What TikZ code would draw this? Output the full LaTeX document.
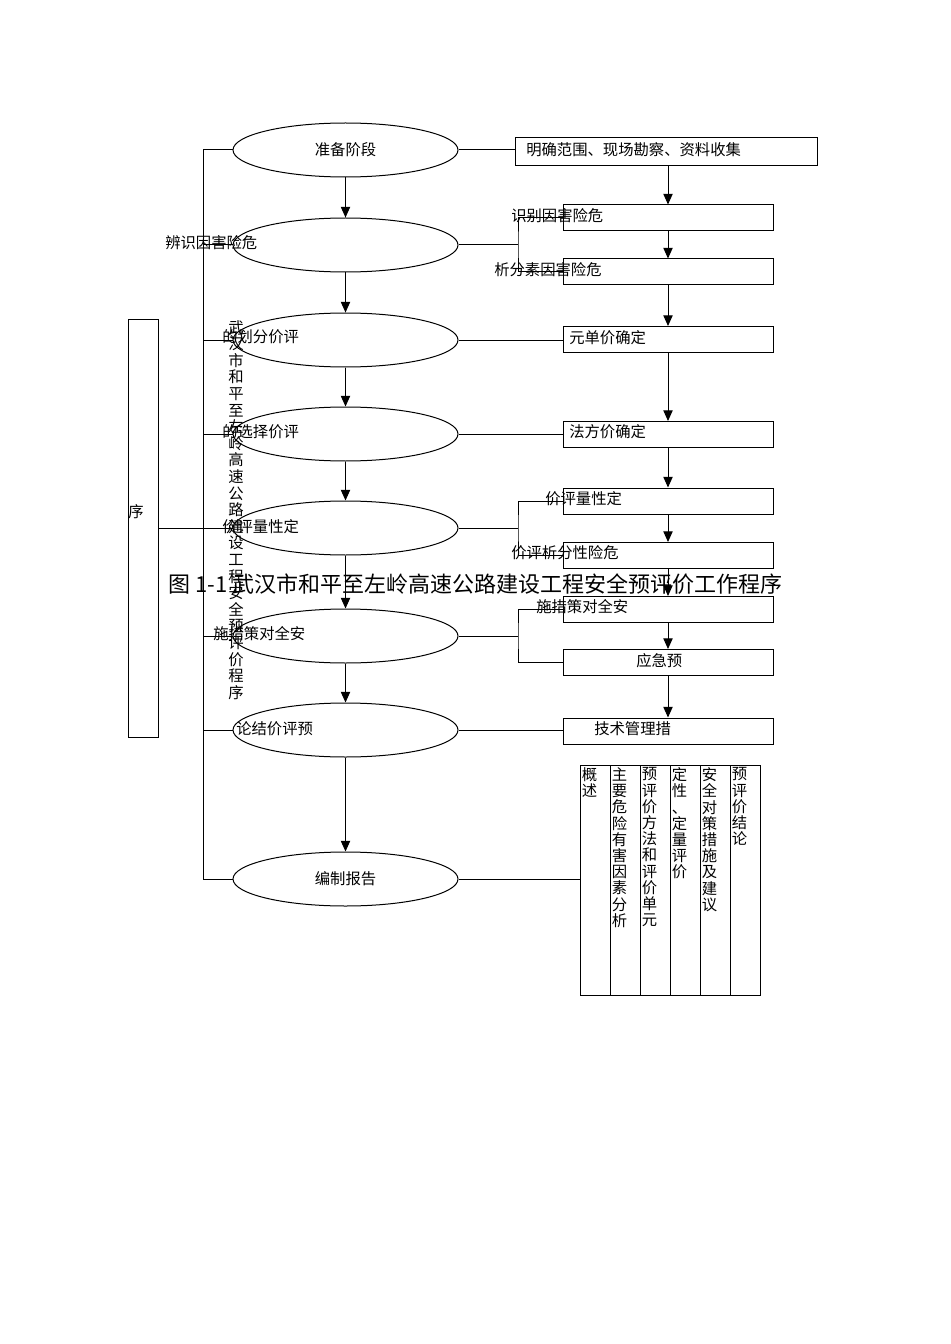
\documentclass[tikz,border=0pt]{standalone}
\usepackage{fontspec}
\newfontfamily\cjk{Noto Sans CJK SC}
\usetikzlibrary{arrows.meta, positioning, shapes.geometric}
\tikzset{
  stage/.style  = {ellipse, draw, line width=0.75pt, minimum width=168.75pt,
                   minimum height=40.5pt, inner sep=0pt, font=\cjk\fontsize{11.5}{12.6}\selectfont},
  item/.style   = {draw, line width=0.75pt, minimum width=157.5pt,
                   minimum height=19.5pt, inner sep=0pt},
  column/.style = {draw, line width=0.75pt, minimum width=22.5pt,
                   minimum height=172.5pt, inner sep=0pt},
  txt/.style    = {inner sep=0pt, anchor=west, font=\cjk\fontsize{11.5}{12.6}\selectfont},
  stack/.style  = {inner sep=0pt, anchor=north west, align=left,
                   font=\cjk\fontsize{11.5}{12.15}\selectfont},
  arrow/.style  = {-{Triangle[width=7pt,length=8pt]}, line width=0.75pt},
  link/.style   = {line width=0.75pt},
}

\begin{document}
\begin{tikzpicture}[x=0.75pt, y=-0.75pt]
  \useasboundingbox (0,0) rectangle (950,1344);

  % stages
  \node[stage] (s1) at (345.5,150) {准备阶段};
  \node[stage] (s2) at (345.5,245) {};
  \node[stage] (s3) at (345.5,340) {};
  \node[stage] (s4) at (345.5,434) {};
  \node[stage] (s5) at (345.5,528) {};
  \node[stage] (s6) at (345.5,636) {};
  \node[stage] (s7) at (345.5,730) {};
  \node[stage] (s8) at (345.5,879) {编制报告};
  \foreach \i/\j in {1/2,2/3,3/4,4/5,5/6,6/7,7/8}
    \draw[arrow] (s\i) -- (s\j);

  % stage labels
  \node[txt] (l2) at (165,243) {辨识因害险危};
  \node[txt] (l3) at (222,337) {的划分价评};
  \node[txt] (l4) at (222,432) {的选择价评};
  \node[txt] (l5) at (222,527) {价评量性定};
  \node[txt] (l6) at (213,634) {施措策对全安};
  \node[txt] (l7) at (236,729) {论结价评预};

  % spine on the left
  \coordinate (spine) at (203,0);
  \draw[link] (s1.west -| spine) -- (s8.west -| spine);
  \foreach \i in {1,...,8}
    \draw[link] (s\i.west -| spine) -- (s\i.west);

  \node[draw, line width=0.75pt, minimum width=22.5pt, minimum height=313.5pt,
        inner sep=0pt] (seq) at (143,528) {};
  \node[txt] (seqt) at (128,512) {序};
  \draw[link] (seq) -- (s5);

  \node[stack, anchor=north, align=center, font=\cjk\fontsize{11.5}{12.45}\selectfont]
    (route) at (236,320) {武\\汉\\市\\和\\平\\至\\左\\岭\\高\\速\\公\\路\\建\\设\\工\\程\\安\\全\\预\\评\\价\\程\\序};

  % boxes on the right
  \node[item, minimum width=226.5pt, minimum height=21pt] (b1) at (666,151.5) {};
  \node[item] (b2)  at (668,218) {};
  \node[item] (b3)  at (668,272) {};
  \node[item] (b4)  at (668,339.5) {};
  \node[item] (b5)  at (668,434.5) {};
  \node[item] (b6)  at (668,501) {};
  \node[item] (b7)  at (668,555.5) {};
  \node[item] (b8)  at (668,609.5) {};
  \node[item] (b9)  at (668,662.5) {};
  \node[item] (b10) at (668,731) {};
  \draw[arrow] (b1.south -| b2) -- (b2);
  \foreach \i/\j in {2/3,3/4,4/5,5/6,6/7,7/8,8/9,9/10}
    \draw[arrow] (b\i) -- (b\j);

  \node[txt] (t1)  at (526,150) {明确范围、现场勘察、资料收集};
  \node[txt] (t2)  at (511,216) {识别因害险危};
  \node[txt] (t3)  at (494,270) {析分素因害险危};
  \node[txt] (t4)  at (569,338) {元单价确定};
  \node[txt] (t5)  at (569,432) {法方价确定};
  \node[txt] (t6)  at (545,499) {价评量性定};
  \node[txt] (t7)  at (511,553) {价评析分性险危};
  \node[txt] (t8)  at (536,607) {施措策对全安};
  \node[txt] (t9)  at (636,661) {应急预};
  \node[txt] (t10) at (594,729) {技术管理措};

  % links between stages and boxes
  \coordinate (j2) at (518,245);
  \coordinate (j5) at (518,528);
  \coordinate (j6) at (518,636);
  \draw[link] (s1.east) -- (s1.east -| b1.west);
  \draw[link] (s2.east) -- (j2);
  \draw[link] (b2.west) -| (j2) |- (b3.west);
  \draw[link] (s3.east) -- (s3.east -| b4.west);
  \draw[link] (s4.east) -- (s4.east -| b5.west);
  \draw[link] (s5.east) -- (j5);
  \draw[link] (b6.west) -| (j5) |- (b7.west);
  \draw[link] (s6.east) -- (j6);
  \draw[link] (b8.west) -| (j6) |- (b9.west);
  \draw[link] (s7.east) -- (s7.east -| b10.west);

  % report contents
  \foreach \i/\t in {1/{概\\述},
                     2/{主\\要\\危\\险\\有\\害\\因\\素\\分\\析},
                     3/{预\\评\\价\\方\\法\\和\\评\\价\\单\\元},
                     4/{定\\性\\、\\定\\量\\评\\价},
                     5/{安\\全\\对\\策\\措\\施\\及\\建\\议},
                     6/{预\\评\\价\\结\\论}} {
    \node[column] (c\i) at ({565+30*\i},880) {};
    \node[stack] (ct\i) at ([xshift=1.5pt,yshift=-2.25pt]c\i.north west) {\t};
  }
  \draw[link] (s8.east) -- (s8.east -| c1.west);

  \node[inner sep=0pt, font=\cjk\fontsize{16.5}{18}\selectfont] (cap) at (475.5,584)
    {图 1-1 武汉市和平至左岭高速公路建设工程安全预评价工作程序};
\end{tikzpicture}
\end{document}
